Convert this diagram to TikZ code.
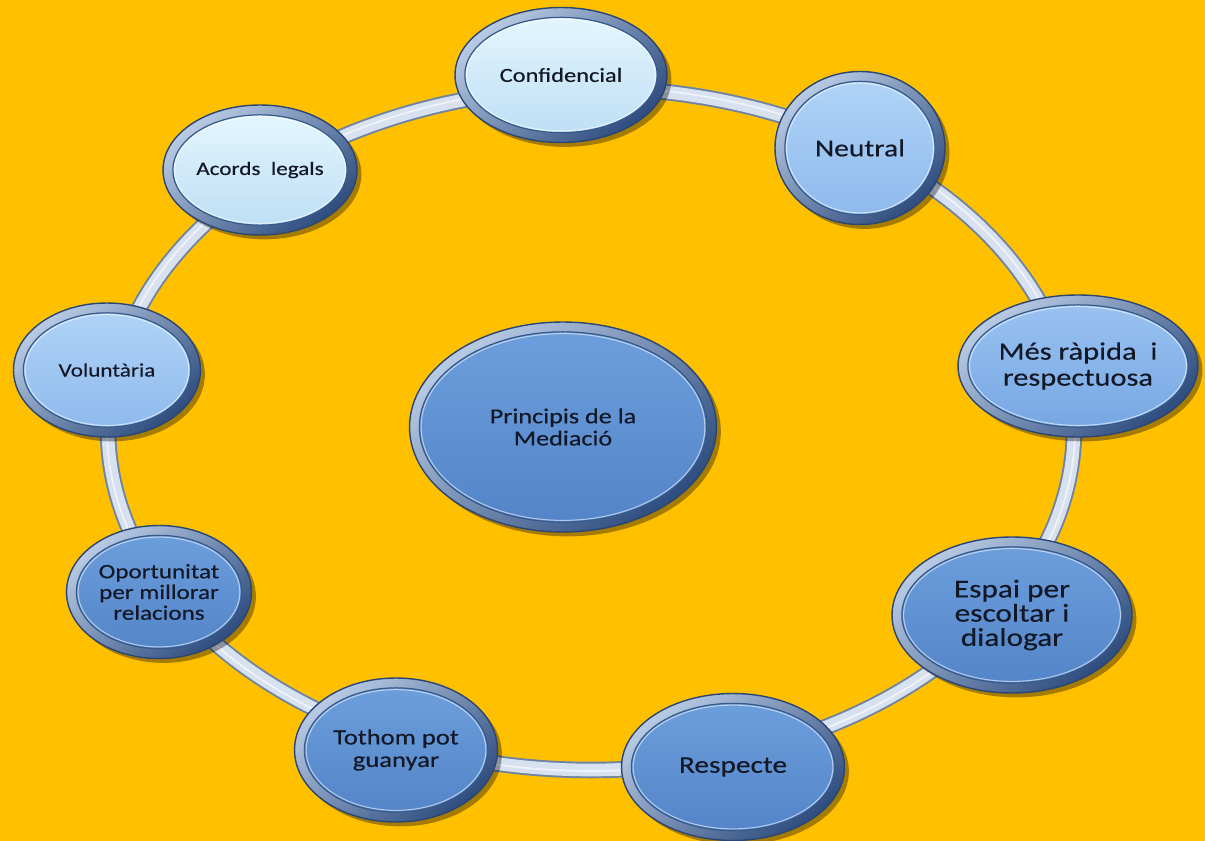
\documentclass[tikz,border=0pt]{standalone}
\usepackage{fontspec}
\setmainfont{Carlito}[FakeStretch=1.22,FakeBold=0.35]
\usetikzlibrary{shapes.geometric,shadows,calc}
\definecolor{bgor}{HTML}{FFC000}
\definecolor{ringfill}{HTML}{D8E1F0}
\definecolor{ringedge}{HTML}{6F83A2}
\definecolor{bezdark}{HTML}{2E4C7E}
\definecolor{bezlight}{HTML}{B9CBE4}
\definecolor{bezedge}{HTML}{2A4674}
\definecolor{innerline}{HTML}{36598C}
\definecolor{txt}{HTML}{121826}
\definecolor{paletop}{HTML}{E6F8FF}
\definecolor{palebot}{HTML}{BCDDF4}
\definecolor{midtop}{HTML}{B2D5F8}
\definecolor{midbot}{HTML}{8CB8EC}
\definecolor{mid2top}{HTML}{9CC4F2}
\definecolor{mid2bot}{HTML}{74A5E2}
\definecolor{darktop}{HTML}{6E9FDD}
\definecolor{darkbot}{HTML}{5283C7}
\tikzset{
  bubble/.style 2 args={ellipse, inner sep=0pt, align=center, text=txt,
    draw=bezedge, line width=0.8pt,
    top color=bezlight, bottom color=bezdark, shading angle=40,
    drop shadow={shadow xshift=2.5pt, shadow yshift=-2.5pt, opacity=0.35, fill=black},
    path picture={
      \shade[top color=#1, bottom color=#2, draw=innerline, line width=0.7pt]
        let \p1=(path picture bounding box.north east),
            \p2=(path picture bounding box.center) in
        (\p2) ellipse [x radius={\x1-\x2-5.6pt}, y radius={\y1-\y2-5.6pt}];
      \draw[white, opacity=0.55, line width=0.6pt]
        let \p1=(path picture bounding box.north east),
            \p2=(path picture bounding box.center) in
        (\p2) ellipse [x radius={\x1-\x2-6.6pt}, y radius={\y1-\y2-6.6pt}];
    }},
  pale/.style={bubble={paletop}{palebot}},
  mid/.style={bubble={midtop}{midbot}},
  midb/.style={bubble={mid2top}{mid2bot}},
  dark/.style={bubble={darktop}{darkbot}},
  ringline/.style={draw=ringedge, line width=1.1pt, double=ringfill, double distance=7.2pt}
}
\begin{document}
\begin{tikzpicture}[x=0.02cm, y=-0.02cm]
\fill[bgor] (0,0) rectangle (1205,841);
\useasboundingbox (0,0) rectangle (1205,841);
\coordinate (ringc) at (591,429);
\draw[ringline] (ringc) ellipse [x radius=483, y radius=341];
\draw[white, opacity=0.6, line width=1pt] (ringc) ellipse [x radius=484, y radius=342];
\node[pale, minimum width=4.24cm, minimum height=2.7cm, font=\fontsize{11.4}{12.5}\selectfont] (conf) at (561,75) {Confidencial};
\node[mid, minimum width=3.4cm, minimum height=3.06cm, font=\fontsize{13.8}{14.5}\selectfont] (neut) at (860,148) {Neutral};
\node[pale, minimum width=3.88cm, minimum height=2.6cm, font=\fontsize{10.8}{12}\selectfont] (acor) at (260,170) {Acords\ \ legals};
\node[midb, minimum width=4.8cm, minimum height=2.84cm, font=\fontsize{14.2}{14.8}\selectfont] (mes) at (1078,366) {Més ràpida\ \ i\\respectuosa};
\node[mid, minimum width=3.74cm, minimum height=2.68cm, font=\fontsize{10.8}{12}\selectfont] (volu) at (107,370) {Voluntària};
\node[dark, minimum width=6.14cm, minimum height=4.2cm, font=\fontsize{12.2}{12.6}\selectfont] (prin) at (563,427) {Principis de la\\Mediació};
\node[dark, minimum width=4.8cm, minimum height=3.12cm, font=\fontsize{14.6}{13.8}\selectfont] (espa) at (1012,615) {Espai per\\escoltar i\\dialogar};
\node[dark, minimum width=3.7cm, minimum height=2.66cm, font=\fontsize{11.7}{11.8}\selectfont] (opor) at (159,592) {Oportunitat\\per millorar\\relacions};
\node[dark, minimum width=4.06cm, minimum height=2.88cm, font=\fontsize{12.4}{12.8}\selectfont] (toth) at (396,750) {Tothom pot\\guanyar};
\node[dark, minimum width=4.46cm, minimum height=2.94cm, font=\fontsize{13.7}{14.5}\selectfont] (resp) at (733,767) {Respecte};
\end{tikzpicture}
\end{document}
